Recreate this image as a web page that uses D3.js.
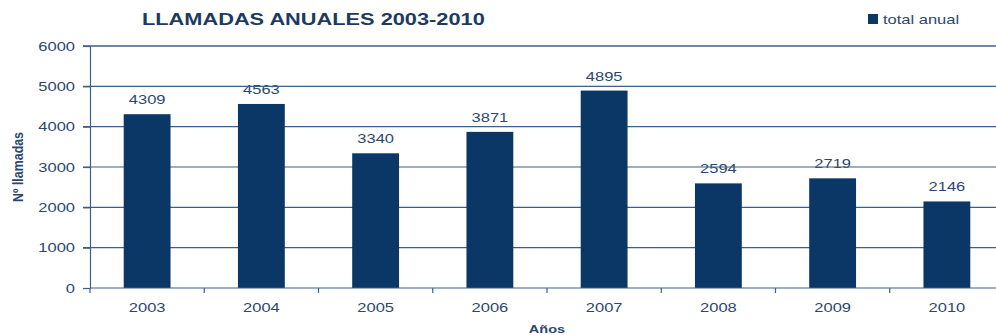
<!DOCTYPE html>
<html>
<head>
<meta charset="utf-8">
<script src="https://cdn.jsdelivr.net/npm/d3@7"></script>
<style>
  html, body { margin: 0; padding: 0; background: #fff; }
  svg { display: block; font-family: "Liberation Sans", Arial, sans-serif; }
</style>
</head>
<body>
<svg id="chart" width="996" height="335"></svg>
<script>
// Annual call totals
const years = ["2003", "2004", "2005", "2006", "2007", "2008", "2009", "2010"];
const totals = [4309, 4563, 3340, 3871, 4895, 2594, 2719, 2146];
const yTicks = [0, 1000, 2000, 3000, 4000, 5000, 6000];

const barColor = "#0b3766";
const lineColor = "#3e5f88";
const textColor = "#2b4770";
const WIDE = 1.32; // horizontal widening used for all lettering

const svg = d3.select("#chart");
const margin = { left: 90, top: 46, bottom: 288, right: 1004 };

const x = d3.scaleBand().domain(years).range([margin.left, margin.right]).paddingInner(0.59).paddingOuter(0.295);
const xTick = d3.scaleBand().domain(years).range([margin.left, margin.right]);
const y = d3.scaleLinear().domain([0, 6000]).range([margin.bottom, margin.top]);

// place a text at (px, py) and widen it horizontally
function wideText(sel, px, py) {
  return sel.attr("x", 0).attr("y", 0)
    .attr("transform", (d, i) => `translate(${typeof px === "function" ? px(d, i) : px},${typeof py === "function" ? py(d, i) : py}) scale(${WIDE},1)`);
}

// value labels sit under the gridlines
const labels = svg.append("g");
labels.selectAll("text").data(totals).join("text")
  .call(wideText, (d, i) => x(years[i]) + x.bandwidth() / 2, d => y(d) - 10)
  .attr("text-anchor", "middle")
  .attr("font-size", 12.5)
  .attr("fill", textColor)
  .text(d => d);

// horizontal gridlines
svg.append("g").selectAll("line").data(yTicks.filter(t => t > 0)).join("line")
  .attr("x1", margin.left - 7).attr("x2", 996)
  .attr("y1", d => y(d)).attr("y2", d => y(d))
  .attr("stroke", lineColor)
  .attr("stroke-width", d => d === 6000 ? 1.6 : 1.2);

// bars
svg.append("g").selectAll("rect").data(totals).join("rect")
  .attr("x", (d, i) => x(years[i]))
  .attr("width", x.bandwidth())
  .attr("y", d => y(d))
  .attr("height", d => y(0) - y(d))
  .attr("fill", barColor);

// y axis
const yAxis = svg.append("g").attr("transform", `translate(${margin.left},0)`)
  .call(d3.axisLeft(y).tickValues(yTicks).tickSize(7).tickPadding(8).tickFormat(d3.format("d")));
yAxis.select(".domain").attr("stroke", lineColor).attr("stroke-width", 1.2);
yAxis.selectAll(".tick line").attr("stroke", lineColor).attr("stroke-width", 1.2);
yAxis.selectAll(".tick text")
  .attr("fill", textColor).attr("font-size", 12.5)
  .attr("font-family", "Liberation Sans, Arial, sans-serif")
  .attr("x", 0).attr("dy", "0.34em")
  .attr("transform", `translate(-15,0) scale(${WIDE},1)`);

// x axis baseline and boundary ticks
const xAxisG = svg.append("g");
xAxisG.append("line")
  .attr("x1", margin.left).attr("x2", 996)
  .attr("y1", y(0)).attr("y2", y(0))
  .attr("stroke", lineColor).attr("stroke-width", 1.2);
xAxisG.selectAll("line.b").data(years).join("line").attr("class", "b")
  .attr("x1", d => xTick(d)).attr("x2", d => xTick(d))
  .attr("y1", y(0)).attr("y2", y(0) + 5)
  .attr("stroke", lineColor).attr("stroke-width", 1.2);
xAxisG.selectAll("text").data(years).join("text")
  .call(wideText, d => x(d) + x.bandwidth() / 2, y(0) + 24)
  .attr("text-anchor", "middle")
  .attr("font-size", 12.5)
  .attr("fill", textColor)
  .text(d => d);

// axis titles
svg.append("text")
  .call(wideText, 547, 333)
  .attr("text-anchor", "middle")
  .attr("font-size", 11).attr("font-weight", "bold")
  .attr("fill", textColor)
  .text("Años");

svg.append("text")
  .attr("transform", `translate(23,167) rotate(-90) scale(1,${WIDE})`)
  .attr("text-anchor", "middle")
  .attr("font-size", 10.5).attr("font-weight", "bold")
  .attr("textLength", 70).attr("lengthAdjust", "spacingAndGlyphs")
  .attr("fill", textColor)
  .text("Nº llamadas");

// title
svg.append("text")
  .call(wideText, 142, 25)
  .attr("font-size", 16.5).attr("font-weight", "bold")
  .attr("fill", "#1d3a63")
  .text("LLAMADAS ANUALES 2003-2010");

// legend
svg.append("rect").attr("x", 868).attr("y", 14).attr("width", 10).attr("height", 10).attr("fill", barColor);
svg.append("text")
  .call(wideText, 883, 23.5)
  .attr("font-size", 12.5)
  .attr("fill", textColor)
  .text("total anual");
</script>
</body>
</html>
